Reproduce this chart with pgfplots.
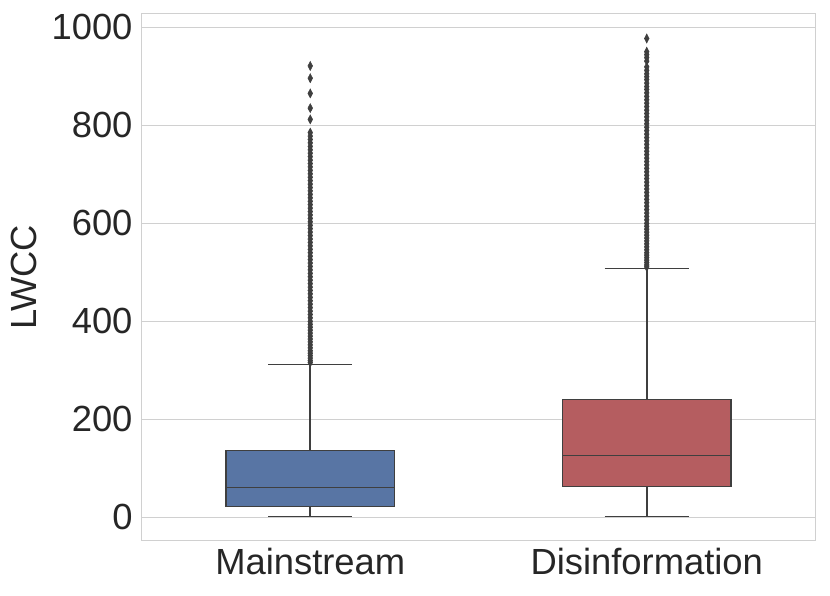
\documentclass[border=0pt]{standalone}
\usepackage{fontspec}
\setmainfont{Liberation Sans}
\usepackage{pgfplots}
\pgfplotsset{compat=1.18}
\definecolor{boxblue}{HTML}{5875A4}
\definecolor{boxred}{HTML}{B55D60}
\definecolor{linegray}{HTML}{3F3F3F}
\definecolor{gridgray}{HTML}{D0D0D0}
\definecolor{textgray}{HTML}{262626}
\begin{document}
\begin{tikzpicture}
\useasboundingbox (-142bp,-56bp) rectangle (688bp,540bp);
\begin{axis}[
    at={(0,0)}, anchor=south west,
    width=673bp, height=526bp, scale only axis,
    xmin=-0.5, xmax=1.5,
    ymin=-46, ymax=1027,
    xtick={0,1}, xticklabels={Mainstream,Disinformation},
    ytick={0,200,400,600,800,1000},
    ymajorgrids=true,
    grid style={gridgray, line width=1bp},
    axis line style={gridgray, line width=1bp},
    major tick length=0pt,
    tick label style={font=\fontsize{36.5}{43}\selectfont, text=textgray},
    /pgf/number format/assume math mode=true,
    /pgf/number format/1000 sep={},
    ylabel={LWCC},
    ylabel style={font=\fontsize{36.5}{43}\selectfont, text=textgray, yshift=8bp},
    yticklabel style={xshift=-6bp},
    xticklabel style={yshift=-5bp},
    every axis plot/.append style={line width=1.5bp},
  ]
% Mainstream box and whiskers
\addplot[fill=boxblue, draw=linegray]
  coordinates {(-0.25,22) (0.25,22) (0.25,137) (-0.25,137)} -- cycle;
\addplot[draw=linegray] coordinates {(-0.25,61) (0.25,61)};
\addplot[draw=linegray] coordinates {(0,137) (0,312)};
\addplot[draw=linegray] coordinates {(0,22) (0,2)};
\addplot[draw=linegray] coordinates {(-0.125,312) (0.125,312)};
\addplot[draw=linegray] coordinates {(-0.125,2) (0.125,2)};
% Disinformation box and whiskers
\addplot[fill=boxred, draw=linegray]
  coordinates {(0.75,63) (1.25,63) (1.25,241) (0.75,241)} -- cycle;
\addplot[draw=linegray] coordinates {(0.75,126) (1.25,126)};
\addplot[draw=linegray] coordinates {(1,241) (1,508)};
\addplot[draw=linegray] coordinates {(1,63) (1,2)};
\addplot[draw=linegray] coordinates {(0.875,508) (1.125,508)};
\addplot[draw=linegray] coordinates {(0.875,2) (1.125,2)};
% outliers
\addplot[only marks, mark=diamond*, mark size=4.5bp,
  mark options={xscale=0.7, fill=linegray, draw=linegray, line width=0.5bp}]
  coordinates {
  (0,921) (0,896) (0,865) (0,835) (0,812) (0,785) (0,778) (0,771) (0,764)
  (0,757) (0,750) (0,743) (0,736) (0,729) (0,722) (0,715) (0,708) (0,701)
  (0,694) (0,687) (0,680) (0,673) (0,666) (0,659) (0,652) (0,645) (0,638)
  (0,631) (0,624) (0,617) (0,610) (0,603) (0,596) (0,589) (0,582) (0,575)
  (0,568) (0,561) (0,554) (0,547) (0,540) (0,533) (0,526) (0,519) (0,512)
  (0,505) (0,498) (0,491) (0,484) (0,477) (0,470) (0,463) (0,456) (0,449)
  (0,442) (0,435) (0,428) (0,421) (0,414) (0,407) (0,400) (0,394) (0,388)
  (0,382) (0,376) (0,370) (0,364) (0,358) (0,352) (0,346) (0,340) (0,335)
  (0,330) (0,325) (0,320) (0,316)
  };
\addplot[only marks, mark=diamond*, mark size=4.5bp,
  mark options={xscale=0.7, fill=linegray, draw=linegray, line width=0.5bp}]
  coordinates {
  (1,977) (1,950) (1,944) (1,938) (1,931) (1,919) (1,912) (1,905) (1,899)
  (1,893) (1,886) (1,879) (1,873) (1,866) (1,859) (1,852) (1,845) (1,838)
  (1,831) (1,824) (1,817) (1,810) (1,803) (1,796) (1,789) (1,782) (1,775)
  (1,768) (1,761) (1,754) (1,747) (1,740) (1,733) (1,726) (1,719) (1,712)
  (1,705) (1,698) (1,691) (1,684) (1,677) (1,670) (1,663) (1,656) (1,649)
  (1,642) (1,635) (1,628) (1,621) (1,614) (1,607) (1,600) (1,594) (1,588)
  (1,582) (1,576) (1,570) (1,564) (1,558) (1,552) (1,546) (1,540) (1,535)
  (1,530) (1,525) (1,520) (1,515) (1,511)
  };
\end{axis}
\end{tikzpicture}
\end{document}
